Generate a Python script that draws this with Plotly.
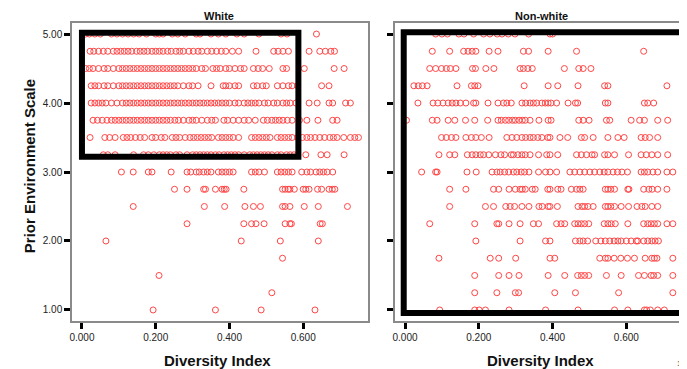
import plotly.graph_objects as go

# ---------------- data (Diversity Index per Prior Environment Scale row) ----------------
white_rows = {
    5.00: [0.01, 0.02, 0.035, 0.05, 0.08, 0.095, 0.11, 0.125, 0.14, 0.155, 0.175, 0.2, 0.21, 0.22,
           0.245, 0.26, 0.28, 0.31, 0.32, 0.35, 0.37, 0.39, 0.42, 0.44, 0.48, 0.54, 0.556, 0.636],
    4.75: [0.022, 0.032, 0.045, 0.058, 0.07, 0.085, 0.095, 0.105, 0.115, 0.125, 0.135, 0.148, 0.158,
           0.168, 0.178, 0.19, 0.2, 0.21, 0.22, 0.232, 0.242, 0.255, 0.265, 0.275, 0.29, 0.302, 0.315,
           0.325, 0.34, 0.352, 0.365, 0.378, 0.39, 0.408, 0.425, 0.472, 0.52, 0.532, 0.545, 0.56,
           0.616, 0.645, 0.66, 0.675, 0.685],
    4.50: [0.01, 0.02, 0.03, 0.045, 0.06, 0.07, 0.085, 0.1, 0.11, 0.12, 0.13, 0.14, 0.15, 0.16, 0.17,
           0.18, 0.19, 0.2, 0.21, 0.22, 0.23, 0.24, 0.25, 0.26, 0.27, 0.28, 0.29, 0.3, 0.31, 0.325,
           0.335, 0.355, 0.365, 0.375, 0.39, 0.4, 0.415, 0.43, 0.44, 0.465, 0.478, 0.49, 0.508,
           0.545, 0.555, 0.603, 0.684, 0.711],
    4.25: [0.025, 0.035, 0.045, 0.06, 0.07, 0.085, 0.1, 0.11, 0.12, 0.13, 0.14, 0.15, 0.16, 0.17, 0.18,
           0.19, 0.2, 0.21, 0.22, 0.23, 0.24, 0.25, 0.26, 0.275, 0.29, 0.3, 0.315, 0.35, 0.383, 0.39,
           0.4, 0.415, 0.425, 0.465, 0.475, 0.49, 0.5, 0.53, 0.545, 0.56, 0.57, 0.585, 0.65, 0.67],
    4.00: [0.025, 0.035, 0.045, 0.055, 0.065, 0.08, 0.095, 0.11, 0.12, 0.13, 0.14, 0.15, 0.16, 0.17,
           0.18, 0.19, 0.2, 0.21, 0.22, 0.23, 0.24, 0.25, 0.26, 0.27, 0.28, 0.29, 0.3, 0.31, 0.32,
           0.33, 0.34, 0.35, 0.36, 0.37, 0.38, 0.39, 0.4, 0.415, 0.425, 0.44, 0.45, 0.46, 0.47, 0.48,
           0.495, 0.505, 0.52, 0.53, 0.545, 0.555, 0.565, 0.58, 0.616, 0.638, 0.67, 0.68, 0.715, 0.728],
    3.75: [0.03, 0.042, 0.055, 0.068, 0.08, 0.09, 0.1, 0.11, 0.12, 0.13, 0.14, 0.15, 0.16, 0.17, 0.18,
           0.19, 0.2, 0.21, 0.22, 0.23, 0.24, 0.252, 0.262, 0.275, 0.29, 0.3, 0.31, 0.325, 0.34,
           0.352, 0.362, 0.385, 0.395, 0.41, 0.425, 0.44, 0.452, 0.47, 0.492, 0.503, 0.515, 0.525,
           0.535, 0.545, 0.557, 0.57, 0.59, 0.61, 0.64, 0.68, 0.692],
    3.50: [0.022, 0.062, 0.075, 0.09, 0.112, 0.122, 0.132, 0.145, 0.158, 0.17, 0.19, 0.2, 0.215,
           0.225, 0.245, 0.255, 0.265, 0.28, 0.293, 0.303, 0.313, 0.323, 0.333, 0.343, 0.352, 0.37,
           0.38, 0.39, 0.4, 0.41, 0.425, 0.46, 0.47, 0.48, 0.49, 0.5, 0.51, 0.53, 0.54, 0.55, 0.56,
           0.57, 0.585, 0.598, 0.61, 0.62, 0.632, 0.645, 0.658, 0.672, 0.682, 0.692, 0.71, 0.728,
           0.74, 0.75],
    3.25: [0.058, 0.07, 0.09, 0.14, 0.167, 0.18, 0.195, 0.21, 0.22, 0.23, 0.24, 0.255, 0.265, 0.285,
           0.3, 0.31, 0.32, 0.33, 0.34, 0.35, 0.362, 0.372, 0.385, 0.395, 0.405, 0.415, 0.425, 0.44,
           0.455, 0.465, 0.475, 0.485, 0.495, 0.505, 0.515, 0.53, 0.54, 0.555, 0.565, 0.575, 0.585,
           0.607, 0.648, 0.665, 0.711],
    3.00: [0.107, 0.139, 0.18, 0.19, 0.242, 0.285, 0.295, 0.31, 0.318, 0.33, 0.34, 0.35, 0.37, 0.38,
           0.39, 0.4, 0.41, 0.46, 0.47, 0.48, 0.495, 0.53, 0.54, 0.55, 0.56, 0.57, 0.596, 0.61, 0.62,
           0.635, 0.645, 0.655, 0.665, 0.68],
    2.75: [0.251, 0.285, 0.33, 0.335, 0.362, 0.38, 0.386, 0.391, 0.439, 0.544, 0.551, 0.559, 0.564,
           0.576, 0.6, 0.607, 0.616, 0.639, 0.65, 0.67, 0.679, 0.686],
    2.50: [0.139, 0.332, 0.387, 0.442, 0.465, 0.484, 0.544, 0.551, 0.564, 0.603, 0.641, 0.72],
    2.25: [0.285, 0.439, 0.46, 0.472, 0.494, 0.551, 0.564, 0.568, 0.646, 0.652],
    2.00: [0.065, 0.432, 0.538, 0.641],
    1.75: [0.544],
    1.50: [0.209],
    1.25: [0.515],
    1.00: [0.193, 0.362, 0.486, 0.632],
}

nonwhite_rows = {
    5.00: [0.083, 0.1, 0.115, 0.146, 0.16, 0.186, 0.213, 0.23, 0.25, 0.263, 0.28, 0.298, 0.335,
           0.393, 0.4],
    4.75: [0.074, 0.121, 0.159, 0.171, 0.182, 0.192, 0.228, 0.252, 0.321, 0.335, 0.388, 0.465, 0.647],
    4.50: [0.067, 0.083, 0.099, 0.112, 0.123, 0.138, 0.183, 0.191, 0.219, 0.241, 0.312, 0.321,
           0.333, 0.345, 0.432, 0.471, 0.483, 0.504],
    4.25: [0.024, 0.036, 0.047, 0.06, 0.141, 0.18, 0.189, 0.198, 0.323, 0.388, 0.414, 0.469, 0.541,
           0.55, 0.71],
    4.00: [0.035, 0.076, 0.089, 0.103, 0.117, 0.128, 0.138, 0.15, 0.165, 0.186, 0.192, 0.225, 0.252,
           0.267, 0.276, 0.288, 0.317, 0.327, 0.339, 0.348, 0.357, 0.371, 0.38, 0.388, 0.396, 0.411,
           0.442, 0.462, 0.468, 0.543, 0.55, 0.649, 0.658, 0.674],
    3.75: [0.004, 0.074, 0.087, 0.117, 0.135, 0.164, 0.189, 0.224, 0.252, 0.261, 0.272, 0.281, 0.291,
           0.299, 0.309, 0.318, 0.326, 0.339, 0.363, 0.388, 0.396, 0.471, 0.483, 0.499, 0.546, 0.555,
           0.613, 0.636, 0.649, 0.685, 0.712],
    3.50: [0.099, 0.112, 0.126, 0.138, 0.165, 0.18, 0.192, 0.207, 0.228, 0.276, 0.29, 0.303, 0.317,
           0.327, 0.339, 0.348, 0.36, 0.371, 0.387, 0.393, 0.42, 0.441, 0.478, 0.487, 0.51, 0.55,
           0.577, 0.594, 0.64, 0.651, 0.663, 0.685],
    3.25: [0.092, 0.121, 0.135, 0.169, 0.182, 0.192, 0.204, 0.213, 0.227, 0.245, 0.26, 0.27, 0.288,
           0.294, 0.306, 0.317, 0.326, 0.339, 0.362, 0.384, 0.393, 0.414, 0.465, 0.478, 0.492, 0.507,
           0.514, 0.541, 0.55, 0.568, 0.606, 0.64, 0.654, 0.669, 0.685, 0.712],
    3.00: [0.045, 0.083, 0.087, 0.168, 0.193, 0.236, 0.249, 0.258, 0.27, 0.281, 0.294, 0.303, 0.315,
           0.324, 0.336, 0.362, 0.381, 0.393, 0.411, 0.447, 0.46, 0.474, 0.487, 0.501, 0.514, 0.528,
           0.54, 0.55, 0.564, 0.576, 0.588, 0.603, 0.64, 0.649, 0.658, 0.672, 0.685, 0.71, 0.726],
    2.75: [0.121, 0.165, 0.24, 0.254, 0.282, 0.299, 0.312, 0.318, 0.326, 0.345, 0.353, 0.387, 0.393,
           0.414, 0.423, 0.451, 0.465, 0.474, 0.483, 0.543, 0.55, 0.558, 0.568, 0.604, 0.607, 0.647,
           0.661, 0.67, 0.685, 0.71],
    2.50: [0.121, 0.218, 0.24, 0.273, 0.285, 0.297, 0.317, 0.336, 0.363, 0.372, 0.388, 0.393, 0.413,
           0.469, 0.48, 0.487, 0.496, 0.51, 0.543, 0.55, 0.558, 0.568, 0.586, 0.606, 0.629, 0.642,
           0.651, 0.669, 0.685],
    2.25: [0.067, 0.189, 0.249, 0.254, 0.282, 0.312, 0.348, 0.362, 0.411, 0.423, 0.433, 0.46, 0.469,
           0.478, 0.487, 0.498, 0.54, 0.55, 0.559, 0.57, 0.604, 0.647, 0.658, 0.667, 0.676, 0.685,
           0.71, 0.726],
    2.00: [0.192, 0.312, 0.381, 0.393, 0.462, 0.474, 0.483, 0.495, 0.517, 0.531, 0.543, 0.555, 0.567,
           0.577, 0.586, 0.6, 0.613, 0.627, 0.631, 0.647, 0.658, 0.669, 0.678, 0.687],
    1.75: [0.092, 0.231, 0.254, 0.3, 0.393, 0.406, 0.528, 0.543, 0.55, 0.567, 0.585, 0.603, 0.622,
           0.651, 0.669, 0.676, 0.683, 0.726],
    1.50: [0.189, 0.254, 0.282, 0.309, 0.388, 0.433, 0.468, 0.478, 0.487, 0.498, 0.546, 0.586, 0.633,
           0.649, 0.667, 0.674, 0.685, 0.726],
    1.25: [0.189, 0.249, 0.299, 0.308, 0.406, 0.462, 0.579, 0.726],
    1.00: [0.094, 0.189, 0.201, 0.218, 0.282, 0.381, 0.469, 0.568, 0.604, 0.649, 0.655, 0.665,
           0.685, 0.703],
}

panel_titles = ["White", "Non-white"]
x_ticks = [0.0, 0.2, 0.4, 0.6]
x_tick_labels = ["0.000", "0.200", "0.400", "0.600"]
y_ticks = [1, 2, 3, 4, 5]
y_tick_labels = ["1.00", "2.00", "3.00", "4.00", "5.00"]
# highlighted regions: [x0, x1, y0, y1]
box_white = [0.0, 0.587, 3.22, 5.02]
box_nonwhite = [-0.0035, 0.754, 0.957, 5.025]


def flatten(rows):
    xs, ys = [], []
    for yv, xv in rows.items():
        for x in xv:
            xs.append(x)
            ys.append(yv)
    return xs, ys


RED = "rgb(255,70,70)"
fig = go.Figure()
for rows, xa, ya in [(white_rows, "x", "y"), (nonwhite_rows, "x2", "y2")]:
    xs, ys = flatten(rows)
    fig.add_trace(go.Scatter(
        x=xs, y=ys, mode="markers", xaxis=xa, yaxis=ya, showlegend=False,
        marker=dict(symbol="circle-open", size=6, color=RED, line=dict(width=1, color=RED)),
    ))

for b, xr, yr in [(box_white, "x", "y"), (box_nonwhite, "x2", "y2")]:
    fig.add_shape(type="rect", xref=xr, yref=yr, x0=b[0], x1=b[1], y0=b[2], y1=b[3],
                  line=dict(color="black", width=6), fillcolor="rgba(0,0,0,0)", layer="above")

axis_common = dict(showgrid=False, zeroline=False, showline=True, mirror=True,
                   linecolor="#8a8a8a", linewidth=1.5, ticks="outside", ticklen=6,
                   tickwidth=2.5, tickcolor="black",
                   tickfont=dict(family="Liberation Sans, Arial", size=10, color="#222"))

# the page body has an 8px margin, so the figure is 8px smaller and its margins 8px narrower
fig.update_layout(
    width=679, height=361,
    margin=dict(l=64, r=0, t=15, b=48),
    paper_bgcolor="white", plot_bgcolor="white",
    xaxis=dict(domain=[0, 0.483], range=[-0.027, 0.776], tickvals=x_ticks,
               ticktext=x_tick_labels, **axis_common),
    xaxis2=dict(domain=[0.527, 1.0], range=[-0.027, 0.759], tickvals=x_ticks,
                ticktext=x_tick_labels, anchor="y2", **axis_common),
    yaxis=dict(range=[0.84, 5.16], tickvals=y_ticks, ticktext=y_tick_labels, **axis_common),
    yaxis2=dict(range=[0.84, 5.16], tickvals=y_ticks, ticktext=y_tick_labels,
                showticklabels=False, anchor="x2", **axis_common),
)

bold = dict(family="Liberation Sans, Arial", color="#111")
anns = [
    dict(text="<b>" + panel_titles[0] + "</b>", x=219, y=16, font=dict(size=11, **bold)),
    dict(text="<b>" + panel_titles[1] + "</b>", x=543, y=16, font=dict(size=11, **bold)),
    dict(text="<b>Diversity Index</b>", x=218, y=360, font=dict(size=15, **bold)),
    dict(text="<b>Diversity Index</b>", x=542, y=360, font=dict(size=15, **bold)),
    dict(text="<b>Prior Environment Scale</b>", x=29, y=166, textangle=-90, font=dict(size=15, **bold)),
    dict(text="17", x=683, y=363, font=dict(size=8, family="Liberation Sans, Arial", color="#333")),
]
for a in anns:
    fig.add_annotation(xref="paper", yref="paper", showarrow=False,
                       x=(a["x"] - 72) / 615, y=(369 - 48 - a["y"]) / 298,
                       xanchor="center", yanchor="middle",
                       text=a["text"], font=a["font"], textangle=a.get("textangle", 0))

fig.write_html("out.html")
